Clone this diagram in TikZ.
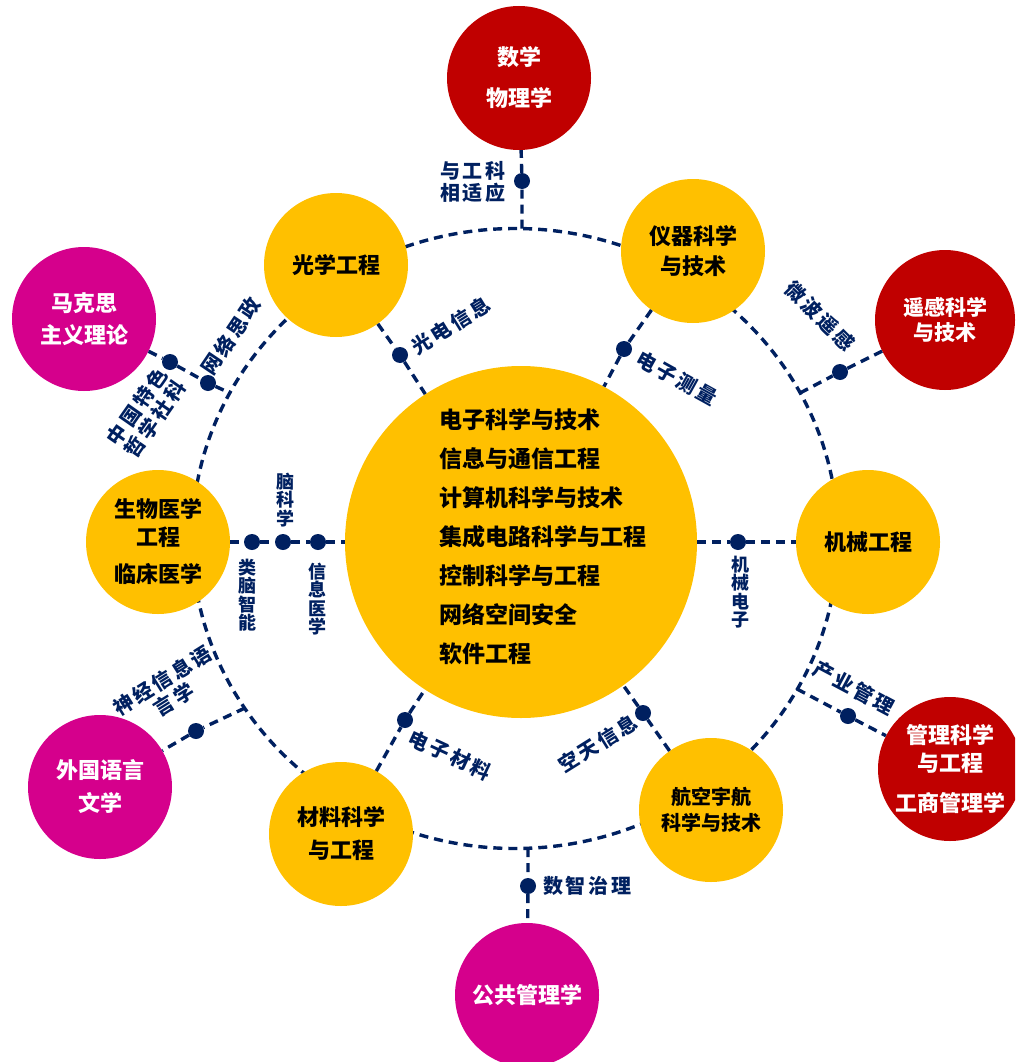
\documentclass[tikz,border=0pt]{standalone}
\usepackage{fontspec}
\setmainfont{Noto Sans CJK SC}
\definecolor{cyel}{HTML}{FFC000}
\definecolor{cred}{HTML}{C00000}
\definecolor{cmag}{HTML}{D5008C}
\definecolor{cnavy}{HTML}{002060}
\begin{document}
\begin{tikzpicture}[x=1pt,y=-1pt,
  disc/.style={circle, inner sep=0, minimum size=144pt, align=center, font=\bfseries\fontsize{22}{28}\selectfont},
  ydisc/.style={disc, fill=cyel, text=black},
  rdisc/.style={disc, fill=cred, text=white},
  mdisc/.style={disc, fill=cmag, text=white},
  dot/.style={circle, fill=cnavy, inner sep=0, minimum size=16pt},
  link/.style={draw=cnavy, line width=3.4pt, dash pattern=on 9pt off 6pt},
  lbl/.style={text=cnavy, font=\bfseries\fontsize{20}{22}\selectfont\addfontfeature{LetterSpace=14}, align=center, inner sep=0},
  vlbl/.style={text=cnavy, font=\bfseries\fontsize{18}{18.5}\selectfont, align=center, inner sep=0}]
\useasboundingbox (0,0) rectangle (1015,1062);
\clip (0,0) rectangle (1015,1062);
% ring
\draw[link] (515,538.5) ellipse [x radius=323, y radius=310];
% ring junctions
\coordinate (rtop) at (522,228.6);
\coordinate (ryg) at (800,393);
\coordinate (rmk) at (230,393);
\coordinate (rw) at (245,708);
\coordinate (rgl) at (797,689);
\coordinate (rbot) at (528,848.2);
% circles
\node[circle, fill=cyel, minimum size=352pt, inner sep=0] (core) at (521,542) {};
\node[anchor=west, align=left, inner sep=0, font=\bfseries\fontsize{23}{39}\selectfont] (coretext) at (439,537)
  {电子科学与技术\\信息与通信工程\\计算机科学与技术\\集成电路科学与工程\\控制科学与工程\\网络空间安全\\软件工程};
\node[rdisc] (shuxue) at (519,78) {数学\\[13pt]物理学};
\node[ydisc] (guang) at (336,265) {光学工程};
\node[ydisc] (yiqi) at (693,251) {仪器科学\\[2pt]与技术};
\node[rdisc, minimum size=140pt, font=\bfseries\fontsize{21}{25}\selectfont] (yaogan) at (945,320) {遥感科学\\与技术};
\node[mdisc] (makesi) at (84,319) {马克思\\[4pt]主义理论};
\node[ydisc] (shengwu) at (158,542) {生物医学\\工程\\[9pt]临床医学};
\node[ydisc] (jixie) at (868,542) {机械工程};
\node[mdisc] (waiguo) at (100,787) {外国语言\\[5pt]文学};
\node[ydisc] (cailiao) at (341,834) {材料科学\\[5pt]与工程};
\node[ydisc, font=\bfseries\fontsize{20}{26}\selectfont] (hangkong) at (711,810) {航空宇航\\科学与技术};
\node[rdisc] (guanli) at (950,769) {管理科学\\与工程\\[12pt]工商管理学};
\node[mdisc] (gonggong) at (527,995) {公共管理学};
% dots
\node[dot] (dm) at (522,181) {};
\node[dot] (dg) at (400,355) {};
\node[dot] (dy) at (624,349) {};
\node[dot] (dyg) at (840,372) {};
\node[dot] (dmk1) at (170,362) {};
\node[dot] (dmk2) at (208,383) {};
\node[dot] (ds1) at (252,542) {};
\node[dot] (ds2) at (283,542) {};
\node[dot] (ds3) at (318,542) {};
\node[dot] (dj) at (738,542) {};
\node[dot] (dw) at (196,731) {};
\node[dot] (dc) at (405,720) {};
\node[dot] (dh) at (643,713) {};
\node[dot] (dgl) at (848,716) {};
\node[dot] (dgg) at (528,886) {};
% connectors
\draw[link] (rtop) -- (dm) -- (shuxue);
\draw[link] (guang) -- (dg) -- (core);
\draw[link] (yiqi) -- (dy) -- (core);
\draw[link] (ryg) -- (dyg) -- (yaogan);
\draw[link] (makesi) -- (dmk1) -- (dmk2) -- (rmk);
\draw[link] (shengwu) -- (ds1) -- (ds2) -- (ds3) -- (core);
\draw[link] (core) -- (dj) -- (jixie);
\draw[link] (rw) -- (dw) -- (waiguo);
\draw[link] (cailiao) -- (dc) -- (core);
\draw[link] (hangkong) -- (dh) -- (core);
\draw[link] (rgl) -- (dgl) -- (guanli);
\draw[link] (rbot) -- (dgg) -- (gonggong);
% labels
\node[lbl] (lmath) at (473,182) {与工科\\相适应};
\node[lbl, rotate=32] (lgd) at (451,326) {光电信息};
\node[lbl, rotate=-29] (ldzcl) at (677,378) {电子测量};
\node[lbl, rotate=-45] (lwb) at (820,316) {微波遥感};
\node[lbl, rotate=56] (lwl) at (231,336) {网络思政};
\node[lbl, rotate=55] (lzg) at (146,413) {中国特色\\哲学社科};
\node[vlbl] (lnk) at (285,500) {脑\\科\\学};
\node[vlbl] (lln) at (247,595) {类\\脑\\智\\能};
\node[vlbl] (lxx) at (317,599) {信\\息\\医\\学};
\node[vlbl] (ljx) at (740,592) {机\\械\\电\\子};
\node[lbl, rotate=32] (lsj) at (168,690) {神经信息语\\言学};
\node[lbl, rotate=-25] (ldzc) at (450,755) {电子材料};
\node[lbl, rotate=32] (lkt) at (598,744) {空天信息};
\node[lbl, rotate=-28] (lcy) at (854,688) {产业管理};
\node[lbl, anchor=west] (lsz) at (543,886) {数智治理};
\end{tikzpicture}
\end{document}
